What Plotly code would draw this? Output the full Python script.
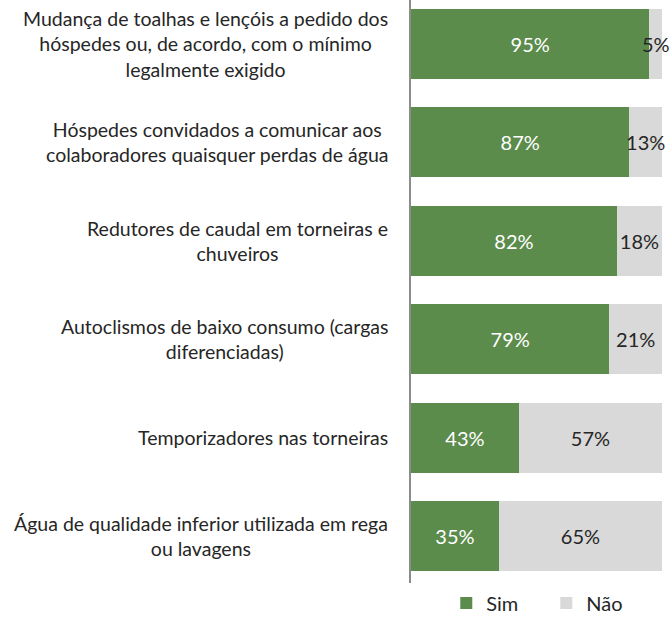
import plotly.graph_objects as go

categories = [
    "Água de qualidade inferior utilizada em rega<br>ou lavagens",
    "Temporizadores nas torneiras",
    "Autoclismos de baixo consumo (cargas<br>diferenciadas)",
    "Redutores de caudal em torneiras e<br>chuveiros",
    "Hóspedes convidados a comunicar aos<br>colaboradores quaisquer perdas de água",
    "Mudança de toalhas e lençóis a pedido dos<br>hóspedes ou, de acordo, com o mínimo<br>legalmente exigido",
]
sim = [35, 43, 79, 82, 87, 95]
nao = [65, 57, 21, 18, 13, 5]

GREEN = "#5B8C4C"
GRAY = "#D9D9D9"
FONT = "Lato"
TXT = "#262626"

fig = go.Figure()
fig.add_trace(go.Bar(
    y=categories, x=sim, orientation="h", name="Sim",
    marker=dict(color=GREEN, line=dict(width=0)),
    text=[f"{v}%" for v in sim], textposition="inside", insidetextanchor="middle",
    textangle=0, textfont=dict(color="white", size=20, family=FONT),
    constraintext="none",
))
fig.add_trace(go.Bar(
    y=categories, x=nao, orientation="h", name="Não",
    marker=dict(color=GRAY, line=dict(width=0)),
    text=[f"{v}%" for v in nao], textposition="inside", insidetextanchor="middle",
    textangle=0, textfont=dict(color=TXT, size=20, family=FONT),
    constraintext="none", cliponaxis=False,
))

for c in categories:
    fig.add_annotation(
        x=0, xref="paper", y=c, yref="y", text=c, showarrow=False,
        xanchor="right", xshift=-21, align="center",
        font=dict(size=19.5, family=FONT, color=TXT),
    )

fig.update_layout(
    barmode="stack", bargap=0.29,
    width=669, height=617,
    margin=dict(l=411, r=7, t=0, b=34, autoexpand=False),
    plot_bgcolor="white", paper_bgcolor="white",
    uniformtext=dict(minsize=20, mode="show"),
    showlegend=True,
    legend=dict(orientation="h", x=0.539, xanchor="center",
                yref="container", y=14 / 617, yanchor="middle",
                font=dict(size=20, family=FONT, color=TXT),
                entrywidth=55, entrywidthmode="pixels", itemwidth=30,
                traceorder="normal"),
    xaxis=dict(range=[0, 100], showticklabels=False, showgrid=False, zeroline=False,
               showline=False, fixedrange=True),
    yaxis=dict(categoryorder="array", categoryarray=categories, range=[-0.478, 5.447],
               showticklabels=False, showgrid=False, zeroline=False,
               showline=True, linecolor="#8C8C8C", linewidth=2, ticks="",
               fixedrange=True),
)

fig.write_html("out.html", config={"displayModeBar": False},
               post_script="document.body.style.margin='0';")
